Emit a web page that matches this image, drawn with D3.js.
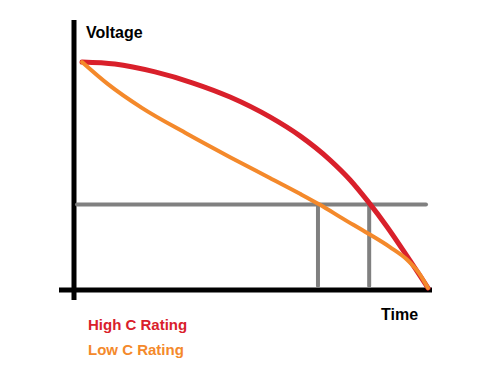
<!DOCTYPE html>
<html>
<head>
<meta charset="utf-8">
<script src="https://cdn.jsdelivr.net/npm/d3@7"></script>
<style>
  body { margin: 0; background: #fff; }
  text { font-family: "Liberation Sans", Arial, sans-serif; font-weight: bold; }
</style>
</head>
<body>
<div id="chart"></div>
<script>
// discharge curves, time 0..100, voltage 0..100 (arbitrary units)
const highTime = [0, 9.5, 21.1, 32.1, 42.8, 54.3, 63.0, 71.7, 77.5, 82.7, 88.2, 93.9, 100];
const highVolt = [100, 99.1, 95.6, 90.7, 84.5, 75.7, 67.3, 56.6, 47.8, 38.2, 27.0, 14.2, 0];
const lowTime = [0, 7.5, 17.3, 29.8, 42.8, 54.3, 63.0, 68.8, 75.4, 82.7, 89.0, 93.9, 97.4, 100];
const lowVolt = [100, 90.2, 79.7, 68.7, 57.9, 48.7, 41.7, 36.8, 30.7, 24.1, 18.1, 12.6, 6.6, 0];
const cutoffVolt = 37.0;
const cutoffTimes = [68.2, 83.0];
const legendLabels = ["High C Rating", "Low C Rating"];
const seriesColors = ["#d9202b", "#f4892b"];

const W = 498, H = 385;
const svg = d3.select("#chart").append("svg")
  .attr("width", W).attr("height", H);

const x = d3.scaleLinear().domain([0, 100]).range([82, 428]);
const y = d3.scaleLinear().domain([0, 100]).range([288, 62]);

// axes (plain thick strokes, no ticks)
svg.append("line")
  .attr("x1", 74).attr("x2", 74).attr("y1", 20).attr("y2", 300)
  .attr("stroke", "#000").attr("stroke-width", 5);
svg.append("line")
  .attr("x1", 59).attr("x2", 432).attr("y1", 290).attr("y2", 290)
  .attr("stroke", "#000").attr("stroke-width", 5);

// cutoff line and drop lines
svg.append("line")
  .attr("x1", 77).attr("x2", 426)
  .attr("y1", y(cutoffVolt)).attr("y2", y(cutoffVolt))
  .attr("stroke", "#808080").attr("stroke-width", 4).attr("stroke-linecap", "round");
svg.selectAll(".drop")
  .data(cutoffTimes)
  .enter().append("line")
  .attr("class", "drop")
  .attr("x1", d => x(d)).attr("x2", d => x(d))
  .attr("y1", y(cutoffVolt)).attr("y2", 286)
  .attr("stroke", "#808080").attr("stroke-width", 4).attr("stroke-linecap", "round");

const line = d3.line()
  .x(d => x(d[0])).y(d => y(d[1]))
  .curve(d3.curveMonotoneX);

const series = [
  { pts: d3.zip(highTime, highVolt), color: seriesColors[0], w: 5 },
  { pts: d3.zip(lowTime, lowVolt), color: seriesColors[1], w: 4 }
];
svg.selectAll(".curve")
  .data(series)
  .enter().append("path")
  .attr("class", "curve")
  .attr("d", d => line(d.pts))
  .attr("fill", "none")
  .attr("stroke", d => d.color)
  .attr("stroke-width", d => d.w)
  .attr("stroke-linecap", "round");

// labels
svg.append("text").attr("x", 86).attr("y", 38)
  .style("font-size", "16px").attr("fill", "#000").text("Voltage");
svg.append("text").attr("x", 381).attr("y", 320)
  .style("font-size", "16px").attr("fill", "#000").text("Time");

svg.selectAll(".legend")
  .data(legendLabels)
  .enter().append("text")
  .attr("class", "legend")
  .attr("x", 88)
  .attr("y", (d, i) => 330 + i * 25)
  .style("font-size", "15px")
  .attr("fill", (d, i) => seriesColors[i])
  .text(d => d);
</script>
</body>
</html>
